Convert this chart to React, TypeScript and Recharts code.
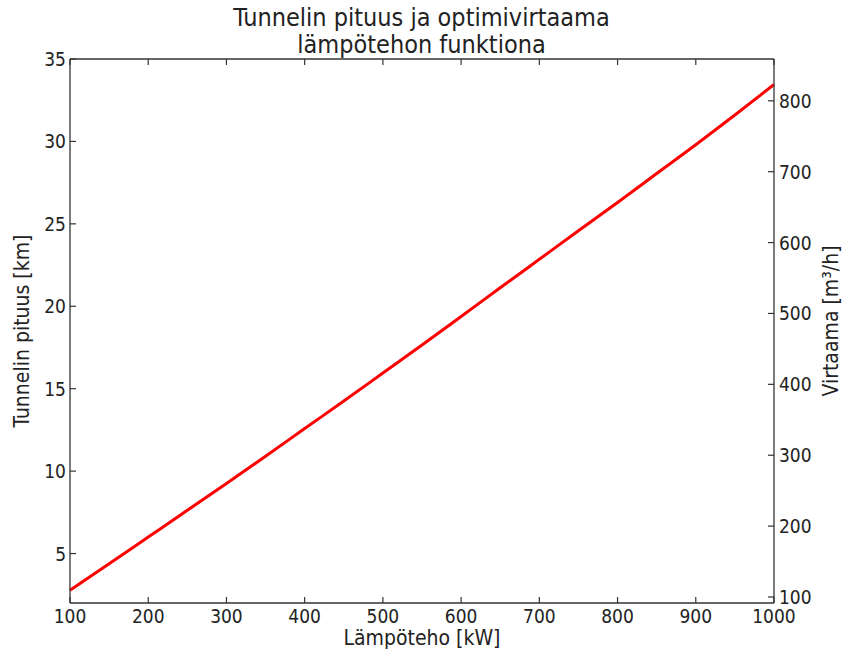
import React from 'react';
import { LineChart, Line, XAxis, YAxis } from 'recharts';

const powerKw = [100, 150, 200, 250, 300, 350, 400, 450, 500, 550, 600, 650, 700, 750, 800, 850, 900, 950, 1000];
const lengthKm = [2.77, 4.38, 6.0, 7.62, 9.25, 10.9, 12.58, 14.25, 15.95, 17.65, 19.38, 21.12, 22.85, 24.58, 26.3, 28.05, 29.8, 31.6, 33.45];
const xTicks = [100, 200, 300, 400, 500, 600, 700, 800, 900, 1000];
const leftTicks = [5, 10, 15, 20, 25, 30, 35];
const rightTicks = [100, 200, 300, 400, 500, 600, 700, 800];

const data = powerKw.map((kw, i) => ({ kw, km: lengthKm[i] }));

const FONT = '"DejaVu Sans Condensed", "DejaVu Sans", sans-serif';
const INK = '#222';
const AXIS = '#333';

const BottomTick = (props: any) => {
  const { x, y, payload } = props;
  return (
    <g>
      <line x1={x} y1={y} x2={x} y2={y - 6} stroke={AXIS} strokeWidth={1.2} />
      <text x={x} y={y + 20} textAnchor="middle" fontFamily={FONT} fontSize={19} fill={INK}>{payload.value}</text>
    </g>
  );
};

const TopTick = (props: any) => {
  const { x, y } = props;
  return <line x1={x} y1={y} x2={x} y2={y + 6} stroke={AXIS} strokeWidth={1.2} />;
};

const LeftTick = (props: any) => {
  const { x, y, payload } = props;
  return (
    <g>
      <line x1={x} y1={y} x2={x + 6} y2={y} stroke={AXIS} strokeWidth={1.2} />
      <text x={x - 4} y={y + 7} textAnchor="end" fontFamily={FONT} fontSize={19} fill={INK}>{payload.value}</text>
    </g>
  );
};

const RightTick = (props: any) => {
  const { x, y, payload } = props;
  return (
    <g>
      <line x1={x} y1={y} x2={x - 6} y2={y} stroke={AXIS} strokeWidth={1.2} />
      <text x={x + 5} y={y + 7} textAnchor="start" fontFamily={FONT} fontSize={19} fill={INK}>{payload.value}</text>
    </g>
  );
};

export default function App() {
  const txt: React.CSSProperties = { position: 'absolute', fontFamily: FONT, color: INK, whiteSpace: 'nowrap' };
  return (
    <div style={{ position: 'absolute', left: 0, top: 0, width: 843, height: 655, background: '#fff' }}>
      <LineChart width={843} height={655} data={data} margin={{ top: 58, right: 9, bottom: 12, left: 10 }}>
        <XAxis xAxisId="bottom" dataKey="kw" type="number" domain={[100, 1000]} ticks={xTicks}
          height={40} tickSize={0} tickMargin={0} tick={<BottomTick />} axisLine={{ stroke: AXIS, strokeWidth: 1.3 }} />
        <XAxis xAxisId="top" orientation="top" dataKey="kw" type="number" domain={[100, 1000]} ticks={xTicks}
          height={1} tickSize={0} tickMargin={0} tick={<TopTick />} axisLine={{ stroke: AXIS, strokeWidth: 1.3 }} />
        <YAxis yAxisId="left" type="number" domain={[2, 35]} ticks={leftTicks} width={60}
          tickSize={0} tickMargin={0} tick={<LeftTick />} axisLine={{ stroke: AXIS, strokeWidth: 1.3 }} allowDataOverflow />
        <YAxis yAxisId="right" orientation="right" type="number" domain={[91.5, 859]} ticks={rightTicks} width={60}
          tickSize={0} tickMargin={0} tick={<RightTick />} axisLine={{ stroke: AXIS, strokeWidth: 1.3 }} allowDataOverflow />
        <Line xAxisId="bottom" yAxisId="left" dataKey="km" type="monotone" stroke="#ff0000" strokeWidth={3}
          dot={false} isAnimationActive={false} />
      </LineChart>
      <div style={{ ...txt, left: 0, width: 843, top: 4, textAlign: 'center', fontSize: 25, lineHeight: '27px' }}>
        Tunnelin pituus ja optimivirtaama<br />lämpötehon funktiona
      </div>
      <div style={{ ...txt, left: 272, width: 300, top: 626, textAlign: 'center', fontSize: 21 }}>Lämpöteho [kW]</div>
      <div style={{ ...txt, left: 22, top: 332, width: 0, height: 0 }}>
        <div style={{ position: 'absolute', left: -150, top: -13, width: 300, textAlign: 'center', fontSize: 21, transform: 'rotate(-90deg)' }}>Tunnelin pituus [km]</div>
      </div>
      <div style={{ ...txt, left: 831, top: 322, width: 0, height: 0 }}>
        <div style={{ position: 'absolute', left: -150, top: -13, width: 300, textAlign: 'center', fontSize: 21, transform: 'rotate(-90deg)' }}>Virtaama [m³/h]</div>
      </div>
    </div>
  );
}
